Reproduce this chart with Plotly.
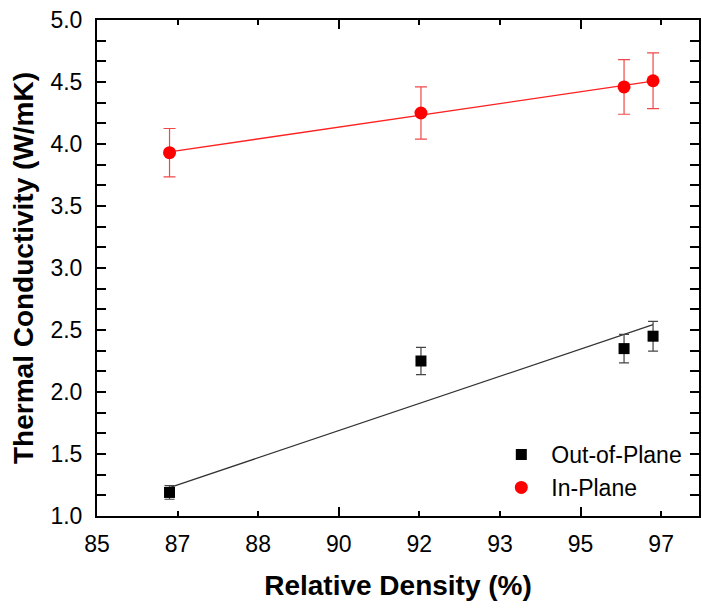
import numpy as np
import plotly.graph_objects as go

# Relative density (%) of the samples
density = [86.5, 91.7, 95.9, 96.5]

# Thermal conductivity (W/mK) with standard deviations
out_of_plane = [1.19, 2.25, 2.35, 2.45]
out_of_plane_err = [0.055, 0.11, 0.115, 0.12]
in_plane = [3.93, 4.25, 4.46, 4.51]
in_plane_err = [0.195, 0.21, 0.22, 0.225]

# Axis tick positions and labels
x_tick_vals = [85, 86.667, 88.333, 90, 91.667, 93.333, 95, 96.667]
x_tick_text = ["85", "87", "88", "90", "92", "93", "95", "97"]
x_major_vals = [85, 90, 95]

FONT = "Liberation Sans, Arial, sans-serif"


def weighted_fit(x, y, err):
    coef = np.polyfit(np.asarray(x), np.asarray(y), 1, w=1.0 / np.asarray(err))
    xs = np.array([min(x), max(x)])
    return xs, np.polyval(coef, xs)


fig = go.Figure()

# linear fits
fx, fy = weighted_fit(density, out_of_plane, out_of_plane_err)
fig.add_trace(go.Scatter(x=fx, y=fy, mode="lines", line=dict(color="#333333", width=1.3),
                         showlegend=False, hoverinfo="skip"))
fx, fy = weighted_fit(density, in_plane, in_plane_err)
fig.add_trace(go.Scatter(x=fx, y=fy, mode="lines", line=dict(color="#ff2020", width=1.3),
                         showlegend=False, hoverinfo="skip"))

# measured points
fig.add_trace(go.Scatter(
    x=density, y=out_of_plane, mode="markers", name="Out-of-Plane",
    marker=dict(symbol="square", size=11, color="black"),
    error_y=dict(type="data", array=out_of_plane_err, color="#444444", thickness=1.2, width=5),
))
fig.add_trace(go.Scatter(
    x=density, y=in_plane, mode="markers", name="In-Plane",
    marker=dict(symbol="circle", size=13, color="#ff0000"),
    error_y=dict(type="data", array=in_plane_err, color="#f04848", thickness=1.2, width=6),
))

# companion axis that carries the longer major ticks on the x axis
fig.add_trace(go.Scatter(x=[], y=[], xaxis="x2", showlegend=False, hoverinfo="skip"))

axis_common = dict(
    showline=True, linecolor="black", linewidth=2,
    ticks="inside", tickcolor="black", tickwidth=1.5,
    showgrid=False, zeroline=False, mirror="allticks",
    tickfont=dict(family=FONT, size=23, color="black"),
)

fig.update_layout(
    width=702, height=608,
    margin=dict(l=97, r=1, t=20, b=92),
    paper_bgcolor="white", plot_bgcolor="white",
    font=dict(family=FONT, color="black"),
    xaxis=dict(
        **axis_common,
        range=[85, 97.45],
        tickmode="array", tickvals=x_tick_vals, ticktext=x_tick_text, ticklen=5,
        ticklabelstandoff=6,
        title=dict(text="<b>Relative Density (%)</b>", font=dict(family=FONT, size=28), standoff=20),
    ),
    xaxis2=dict(
        overlaying="x", anchor="y", side="bottom",
        range=[85, 97.45], showline=False, showgrid=False, zeroline=False,
        tickmode="array", tickvals=x_major_vals, ticks="inside", ticklen=9,
        tickcolor="black", tickwidth=1.5, showticklabels=False, mirror="allticks",
    ),
    yaxis=dict(
        **axis_common,
        range=[1.0, 5.0],
        tickmode="linear", tick0=1.0, dtick=0.5, tickformat=".1f", ticklen=9,
        ticklabelstandoff=8,
        minor=dict(tickmode="linear", tick0=1.0, dtick=0.5 / 3, ticklen=5,
                   ticks="inside", tickcolor="black", tickwidth=1.5),
        title=dict(text="<b>Thermal Conductivity (W/mK)</b>", font=dict(family=FONT, size=28), standoff=9),
    ),
    legend=dict(
        x=0.655, y=0.014, xanchor="left", yanchor="bottom",
        bgcolor="rgba(0,0,0,0)", font=dict(family=FONT, size=23, color="black"),
        tracegroupgap=0, itemwidth=50,
    ),
    showlegend=True,
)

fig.write_html("out.html")
